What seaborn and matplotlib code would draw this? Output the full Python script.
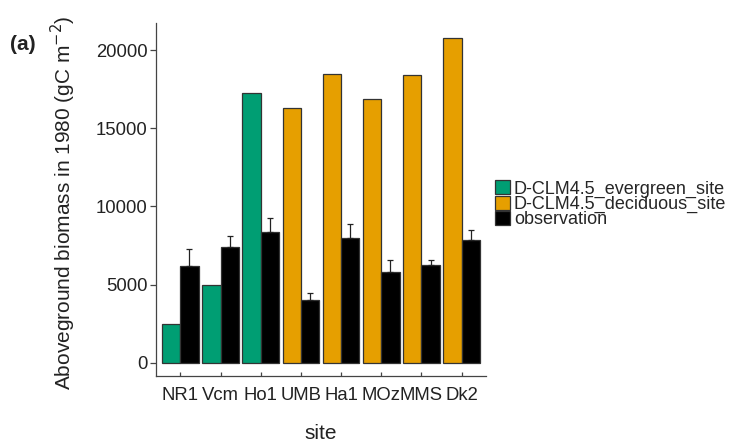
import matplotlib
matplotlib.use("Agg")
import matplotlib.pyplot as plt
from matplotlib.patches import Patch
import seaborn as sns
import pandas as pd
import numpy as np

sites = ["NR1", "Vcm", "Ho1", "UMB", "Ha1", "MOz", "MMS", "Dk2"]
site_type = ["evergreen", "evergreen", "evergreen", "deciduous",
             "deciduous", "deciduous", "deciduous", "deciduous"]
model_biomass = [2490, 4970, 17230, 16270, 18480, 16870, 18410, 20750]
obs_biomass = [6200, 7420, 8340, 4010, 7995, 5830, 6270, 7860]
obs_error = [1070, 665, 895, 430, 875, 715, 320, 640]

legend_labels = ["D-CLM4.5_evergreen_site", "D-CLM4.5_deciduous_site", "observation"]
colors = {"evergreen": "#009E73", "deciduous": "#E69F00", "observation": "#000000"}

sns.set_theme(style="ticks")
plt.rcParams["font.family"] = ["Liberation Sans", "DejaVu Sans"]

df = pd.DataFrame({
    "site": sites * 2,
    "kind": ["model"] * len(sites) + ["observation"] * len(sites),
    "value": model_biomass + obs_biomass,
})

fig = plt.figure(figsize=(7.38, 4.46), dpi=100)
ax = fig.add_axes([0.2114, 0.157, 0.4471, 0.792])

sns.barplot(data=df, x="site", y="value", hue="kind", order=sites,
            hue_order=["model", "observation"],
            palette={"model": "#ffffff", "observation": "#000000"},
            width=0.91, edgecolor="#333333", linewidth=0.9,
            errorbar=None, legend=False, ax=ax)

# recolor model bars by site type
for patch, t in zip(ax.containers[0], site_type):
    patch.set_facecolor(colors[t])

# observation error bars (upper only)
obs_x = [p.get_x() + p.get_width() / 2 for p in ax.containers[1]]
ax.errorbar(obs_x, obs_biomass, yerr=[np.zeros(len(obs_error)), obs_error],
            fmt="none", ecolor="#222222", elinewidth=0.9, capsize=2.5,
            capthick=0.9, zorder=1)

ax.set_xlim(-0.605, 7.607)
ax.set_ylim(-850, 21750)
ax.set_yticks([0, 5000, 10000, 15000, 20000])
sns.despine(ax=ax)
for s in ["left", "bottom"]:
    ax.spines[s].set_color("#444444")
    ax.spines[s].set_linewidth(0.9)
ax.tick_params(axis="y", direction="out", length=4, width=0.9, pad=2,
               labelsize=13.3, color="#444444", labelcolor="#222222")
ax.tick_params(axis="x", direction="in", length=3, width=0.9, pad=8,
               labelsize=13.3, color="#444444", labelcolor="#222222")

ax.set_xlabel("site", fontsize=15, color="#222222")
ax.set_ylabel("Aboveground biomass in 1980 (gC m$^{-2}$)", fontsize=15,
              color="#222222")
ax.yaxis.set_label_coords(-0.236, 0.49)
ax.xaxis.set_label_coords(0.5, -0.135)

handles = [Patch(facecolor=colors["evergreen"], edgecolor="#333333", linewidth=0.9),
           Patch(facecolor=colors["deciduous"], edgecolor="#333333", linewidth=0.9),
           Patch(facecolor=colors["observation"], edgecolor="#333333", linewidth=0.9)]
fig.legend(handles, legend_labels, loc="upper left",
           bbox_to_anchor=(0.671, 0.596), bbox_transform=fig.transFigure,
           frameon=False, fontsize=13, handlelength=0.83, handleheight=0.83,
           handletextpad=0.2, labelspacing=-0.12, borderpad=0, borderaxespad=0)

fig.text(0.013, 0.901, "(a)", fontsize=15, fontweight="bold", va="center",
         ha="left", color="#222222")

fig.savefig("out.png", dpi=100)
